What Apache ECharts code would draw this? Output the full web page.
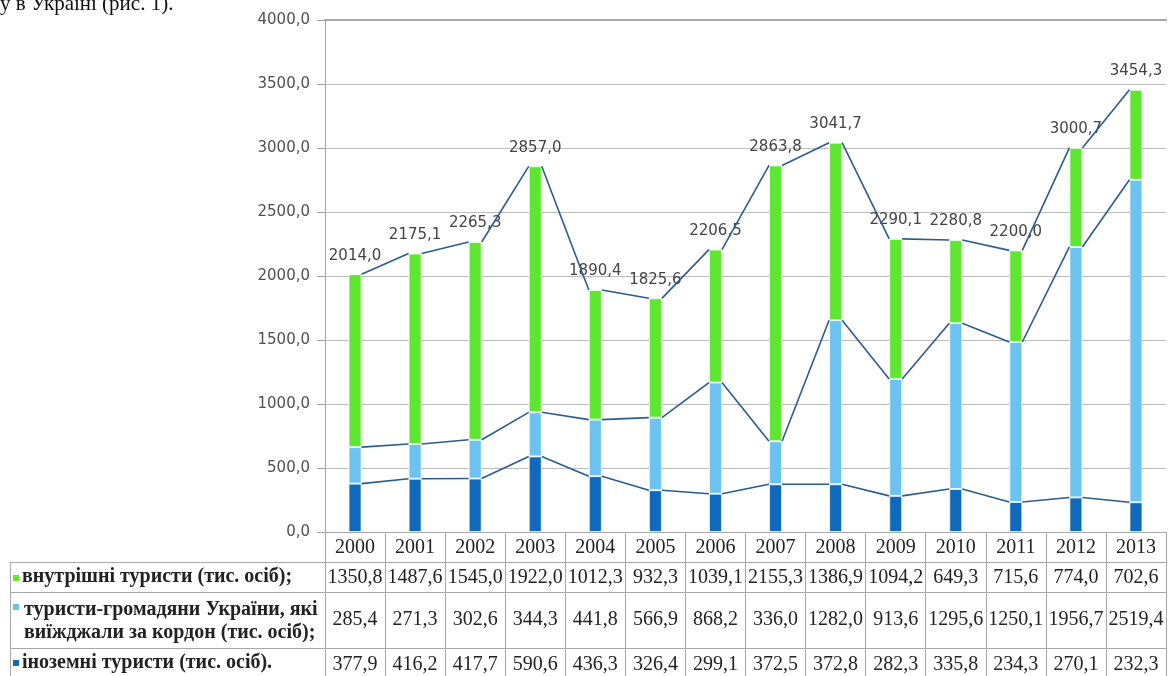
<!DOCTYPE html>
<html>
<head>
<meta charset="utf-8">
<script src="https://cdn.jsdelivr.net/npm/echarts@6/dist/echarts.min.js"></script>
<style>
html,body{margin:0;padding:0;background:#fff;}
#chart{width:1170px;height:676px;}
</style>
</head>
<body>
<div id="chart"></div>
<script>
// ---- data ----
const years = ['2000','2001','2002','2003','2004','2005','2006','2007','2008','2009','2010','2011','2012','2013'];
const domestic = [1350.8,1487.6,1545.0,1922.0,1012.3,932.3,1039.1,2155.3,1386.9,1094.2,649.3,715.6,774.0,702.6];
const outbound = [285.4,271.3,302.6,344.3,441.8,566.9,868.2,336.0,1282.0,913.6,1295.6,1250.1,1956.7,2519.4];
const foreign = [377.9,416.2,417.7,590.6,436.3,326.4,299.1,372.5,372.8,282.3,335.8,234.3,270.1,232.3];
const totals = [2014.0,2175.1,2265.3,2857.0,1890.4,1825.6,2206.5,2863.8,3041.7,2290.1,2280.8,2200.0,3000.7,3454.3];
const yTicks = {min: 0, max: 4000, interval: 500};
const rowNames = [
  'внутрішні туристи (тис. осіб);',
  'туристи-громадяни України, які\nвиїжджали за кордон (тис. осіб);',
  'іноземні туристи (тис. осіб).'
];
const headerText = 'у в Україні (рис. 1).';

// ---- styles ----
const C_GREEN = '#5fe631', C_LIGHT = '#6cc3f0', C_DARK = '#0f6abb', C_LINE = '#2b5c8e';
const GRID = {left: 325, right: 4, top: 20, bottom: 144};
const BAR_W = 13;
const fmt = v => v.toFixed(1).replace('.', ',');
const serif = "'Liberation Serif', 'Times New Roman', serif";
const sans = "'DejaVu Sans', Verdana, sans-serif";
const TBL = '#a8a8a8';

const lvl1 = foreign.map(v => v);
const lvl2 = foreign.map((v, i) => v + outbound[i]);
const lvl3 = foreign.map((v, i) => v + outbound[i] + domestic[i]);
const connData = [];
for (let i = 0; i < years.length - 1; i++) {
  connData.push([i, lvl1[i], lvl2[i], lvl3[i], lvl1[i+1], lvl2[i+1], lvl3[i+1]]);
}

const chart = echarts.init(document.getElementById('chart'), null, {renderer: 'canvas'});

function valueAxis(data, offset, margin) {
  return {
    type: 'category', data: data.map(fmt), position: 'bottom', offset: offset,
    gridIndex: 0,
    axisLine: {show: true, lineStyle: {color: TBL, width: 1}},
    axisTick: {show: false},
    axisLabel: {interval: 0, margin: margin, fontFamily: serif, fontSize: 20, color: '#222'},
    splitLine: {show: false}
  };
}

const option = {
  animation: false,
  backgroundColor: '#fff',
  grid: GRID,
  xAxis: [
    {
      type: 'category', data: years, position: 'bottom',
      axisLine: {show: true, lineStyle: {color: TBL, width: 1}},
      axisTick: {show: true, interval: 0, length: 150, lineStyle: {color: TBL, width: 1}},
      axisLabel: {interval: 0, margin: 6, fontFamily: serif, fontSize: 20, color: '#222'},
      splitLine: {show: false}
    },
    valueAxis(domestic, 30, 6),
    valueAxis(outbound, 60, 18),
    valueAxis(foreign, 116, 7),
    {
      type: 'category', data: years, position: 'top',
      axisLine: {show: true, lineStyle: {color: '#a6a6a6', width: 2}},
      axisTick: {show: false}, axisLabel: {show: false}, splitLine: {show: false}
    }
  ],
  yAxis: {
    type: 'value', min: yTicks.min, max: yTicks.max, interval: yTicks.interval,
    axisLine: {show: true, lineStyle: {color: '#a6a6a6'}},
    axisTick: {show: true, length: 8, lineStyle: {color: '#a6a6a6'}},
    axisLabel: {formatter: v => fmt(v), margin: 15, fontFamily: sans, fontSize: 15, color: '#505050'},
    splitLine: {show: true, lineStyle: {color: '#bdbdbd', width: 1}}
  },
  series: [
    {
      name: rowNames[2], type: 'bar', stack: 'total', data: foreign, barWidth: BAR_W,
      itemStyle: {color: C_DARK, borderColor: 'rgba(255,255,255,0.7)', borderWidth: 1}, z: 2
    },
    {
      name: rowNames[1], type: 'bar', stack: 'total', data: outbound, barWidth: BAR_W,
      itemStyle: {color: C_LIGHT, borderColor: 'rgba(255,255,255,0.7)', borderWidth: 1}, z: 2
    },
    {
      name: rowNames[0], type: 'bar', stack: 'total', data: domestic, barWidth: BAR_W,
      itemStyle: {color: C_GREEN, borderColor: 'rgba(255,255,255,0.7)', borderWidth: 1}, z: 2,
      label: {
        show: true, position: 'top', distance: 11,
        formatter: p => fmt(totals[p.dataIndex]),
        fontFamily: sans, fontSize: 15, color: '#444'
      }
    },
    {
      type: 'custom', xAxisIndex: 0, yAxisIndex: 0, data: connData, z: 5, clip: false,
      encode: {x: 0, y: [1, 2, 3, 4, 5, 6]},
      renderItem: function (params, api) {
        const i = api.value(0);
        const hw = BAR_W / 2;
        const children = [];
        for (let k = 0; k < 3; k++) {
          const p1 = api.coord([i, api.value(1 + k)]);
          const p2 = api.coord([i + 1, api.value(4 + k)]);
          children.push({
            type: 'line',
            shape: {x1: p1[0] + hw, y1: p1[1], x2: p2[0] - hw, y2: p2[1]},
            style: {stroke: C_LINE, lineWidth: 1.6}
          });
        }
        return {type: 'group', children: children};
      }
    }
  ],
  graphic: [
    {type: 'text', left: 0, top: -6, style: {text: headerText, font: '21px ' + serif, fill: '#111'}},
    // table left part borders
    {type: 'line', shape: {x1: 10, y1: 562.5, x2: 325, y2: 562.5}, style: {stroke: TBL, lineWidth: 1}},
    {type: 'line', shape: {x1: 10, y1: 592.5, x2: 325, y2: 592.5}, style: {stroke: TBL, lineWidth: 1}},
    {type: 'line', shape: {x1: 10, y1: 648.5, x2: 325, y2: 648.5}, style: {stroke: TBL, lineWidth: 1}},
    {type: 'line', shape: {x1: 10.5, y1: 562, x2: 10.5, y2: 676}, style: {stroke: TBL, lineWidth: 1}},
    // row legend markers
    {type: 'rect', shape: {x: 13, y: 575, width: 6, height: 6}, style: {fill: C_GREEN}},
    {type: 'rect', shape: {x: 13, y: 604, width: 6, height: 6}, style: {fill: C_LIGHT}},
    {type: 'rect', shape: {x: 13, y: 660, width: 6, height: 6}, style: {fill: C_DARK}},
    // row headers
    {type: 'text', left: 22, top: 567, style: {text: rowNames[0], font: 'bold 20px ' + serif, fill: '#222'}},
    {type: 'text', left: 24, top: 598, style: {text: rowNames[1], font: 'bold 20px ' + serif, fill: '#222', lineHeight: 23}},
    {type: 'text', left: 22, top: 653, style: {text: rowNames[2], font: 'bold 20px ' + serif, fill: '#222'}}
  ]
};
chart.setOption(option);
</script>
</body>
</html>
